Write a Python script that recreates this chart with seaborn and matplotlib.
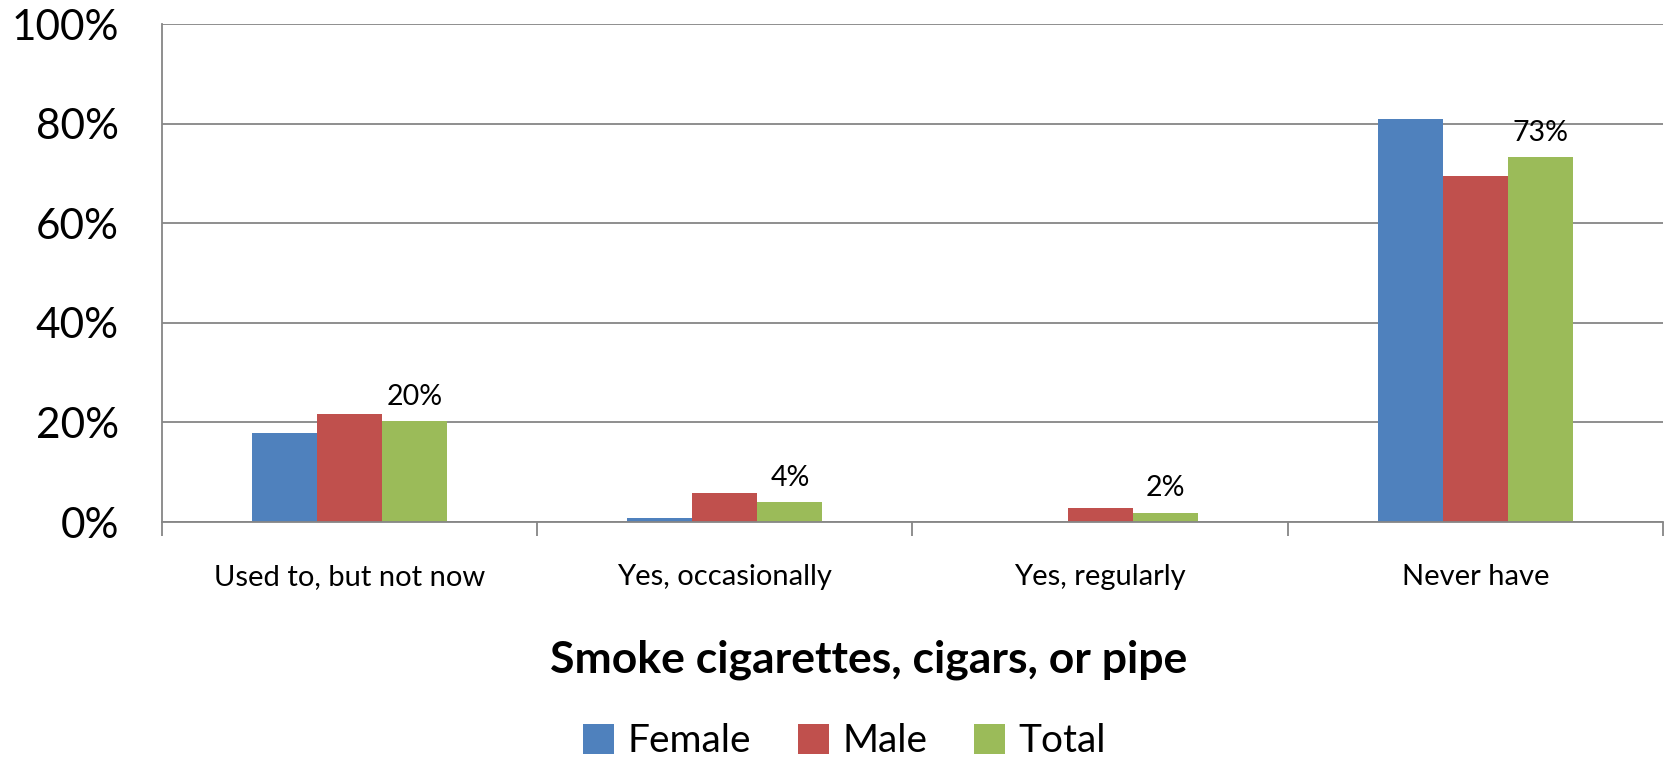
import pandas as pd
import numpy as np
import matplotlib.pyplot as plt
import seaborn as sns
from matplotlib.ticker import FixedLocator, PercentFormatter

# values (percent)
categories = ['Used to, but not now', 'Yes, occasionally', 'Yes, regularly', 'Never have']
female = [17.8, 0.8, 0.0, 81.0]
male = [21.6, 5.8, 2.8, 69.4]
total = [20.2, 4.1, 1.9, 73.2]
total_labels = ['20%', '4%', '2%', '73%']

series = ['Female', 'Male', 'Total']
colors = ['#4F81BD', '#C0504D', '#9BBB59']

df = pd.DataFrame({
    'category': categories * 3,
    'value': female + male + total,
    'series': [s for s in series for _ in categories],
})

sns.set_style('white', {'text.color': 'black', 'xtick.color': 'black', 'ytick.color': 'black',
                        'axes.labelcolor': 'black'})
plt.rcParams['font.family'] = ['Lato', 'DejaVu Sans']

fig = plt.figure(figsize=(16.72, 7.58), dpi=100)
ax = fig.add_axes([0.0969, 0.3113, 0.8977, 0.657])

sns.barplot(data=df, x='category', y='value', hue='series', order=categories,
            hue_order=series, palette=colors, width=0.52, gap=0,
            saturation=1, errorbar=None, ax=ax, edgecolor='none')

# only the Total series carries data labels
ax.bar_label(ax.containers[2], labels=total_labels, padding=8, fontsize=20.5, color='black')

ax.set_ylim(0, 100)
ax.set_xlim(-0.5, len(categories) - 0.5)
ax.set_yticks(np.arange(0, 101, 20))
ax.yaxis.set_major_formatter(PercentFormatter(decimals=0))
ax.tick_params(axis='y', labelsize=30.5, length=15, width=1.3, color='#868686',
               labelcolor='black', pad=16)
ax.grid(axis='y', color='#868686', linewidth=1.3)
ax.set_axisbelow(True)

# category boundary tick marks below the axis
ax.xaxis.set_minor_locator(FixedLocator(np.arange(-0.5, len(categories), 1)))
ax.tick_params(axis='x', which='major', length=0, labelsize=21, labelcolor='black', pad=30)
ax.tick_params(axis='x', which='minor', length=10, width=1.3, color='#868686', direction='out')
ax.xaxis.set_tick_params(which='both', bottom=True)

for side in ['top', 'right']:
    ax.spines[side].set_visible(False)
for side in ['left', 'bottom']:
    ax.spines[side].set_color('#868686')
    ax.spines[side].set_linewidth(1.3)

ax.set_xlabel('Smoke cigarettes, cigars, or pipe', fontsize=32, fontweight='bold',
              labelpad=36, color='black')
ax.xaxis.label.set_x(0.471)
ax.set_ylabel('')

leg = ax.legend(loc='center', bbox_to_anchor=(0.4547, -0.44), ncol=3, frameon=False,
                fontsize=28, handlelength=0.8, handleheight=0.8, handletextpad=0.35,
                columnspacing=1.2)
for t in leg.get_texts():
    t.set_color('black')

plt.savefig('out.png', dpi=100)
